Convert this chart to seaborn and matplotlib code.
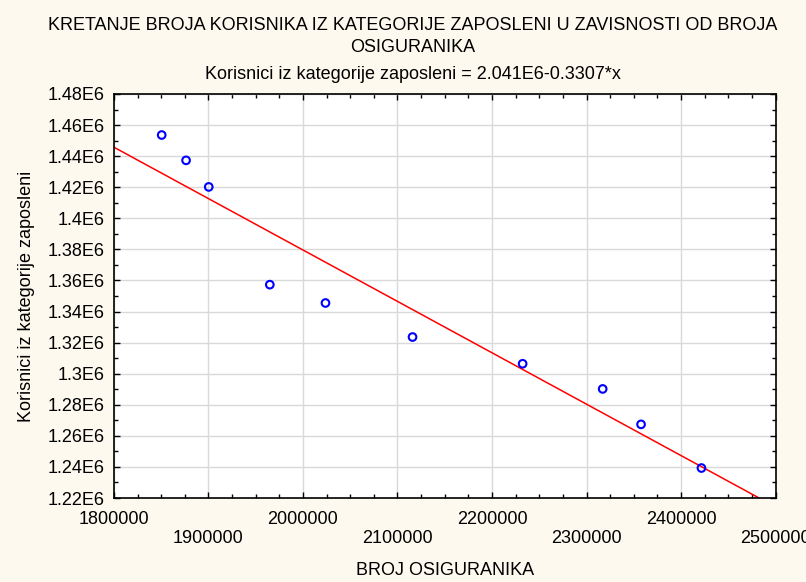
import numpy as np
import pandas as pd
import matplotlib
matplotlib.use("Agg")
import matplotlib.pyplot as plt
from matplotlib.ticker import FuncFormatter, MultipleLocator
import seaborn as sns

# podaci ocitani sa grafika
broj_osiguranika = [1850500, 1876300, 1900300, 1964900, 2023800,
                    2115900, 2232400, 2317100, 2357700, 2421600]
korisnici_zaposleni = [1453600, 1437300, 1420200, 1357300, 1345500,
                       1323600, 1306400, 1290200, 1267400, 1239300]

# regresijska prava iz naslova
intercept = 2.041e6
slope = -0.3307

x_ticks = [1800000, 1900000, 2000000, 2100000, 2200000, 2300000, 2400000, 2500000]
y_ticks = [1.22e6, 1.24e6, 1.26e6, 1.28e6, 1.3e6, 1.32e6, 1.34e6,
           1.36e6, 1.38e6, 1.4e6, 1.42e6, 1.44e6, 1.46e6, 1.48e6]

df = pd.DataFrame({"BROJ OSIGURANIKA": broj_osiguranika,
                   "Korisnici iz kategorije zaposleni": korisnici_zaposleni})

sns.set_theme(style="ticks")
plt.rcParams["font.family"] = ["Liberation Sans", "DejaVu Sans"]
plt.rcParams["text.color"] = "black"
plt.rcParams["axes.labelcolor"] = "black"

bg = "#fdf9ee"
fig = plt.figure(figsize=(8.06, 5.82), dpi=100, facecolor=bg)
ax = fig.add_axes([0.1414, 0.1443, 0.8208, 0.6942])
ax.set_facecolor("white")

ax.axline((0, intercept), slope=slope, color="#ff0000", lw=1.1, zorder=2)
sns.scatterplot(data=df, x="BROJ OSIGURANIKA", y="Korisnici iz kategorije zaposleni",
                marker="o", s=30, facecolor="none", edgecolor="#0000ff",
                linewidth=1.5, ax=ax, zorder=3)

ax.set_xlim(1800000, 2500000)
ax.set_ylim(1.22e6, 1.48e6)
ax.set_xticks(x_ticks)
ax.set_yticks(y_ticks)
ax.set_xticklabels([("" if i % 2 == 0 else "\n") + str(v) for i, v in enumerate(x_ticks)])
ax.yaxis.set_major_formatter(FuncFormatter(lambda v, p: f"{v / 1e6:g}E6"))
ax.xaxis.set_minor_locator(MultipleLocator(25000))
ax.yaxis.set_minor_locator(MultipleLocator(10000))

ax.grid(True, which="major", color="#d9d9d9", lw=1)
ax.set_axisbelow(True)
for s in ax.spines.values():
    s.set_visible(True)
    s.set_color("black")
    s.set_linewidth(1.2)
ax.tick_params(which="both", direction="in", top=True, right=True, colors="black",
               labelsize=13, width=1)
ax.tick_params(which="major", length=4)
ax.tick_params(which="minor", length=3)
ax.tick_params(axis="x", which="major", pad=9)
ax.tick_params(axis="y", which="major", pad=6.5)

ax.set_xlabel("BROJ OSIGURANIKA", fontsize=13, labelpad=11)
ax.set_ylabel("Korisnici iz kategorije zaposleni", fontsize=13, labelpad=9.5)

tx = 0.5124
fig.text(tx, 0.956, "KRETANJE BROJA KORISNIKA IZ KATEGORIJE ZAPOSLENI U ZAVISNOSTI OD BROJA",
         ha="center", va="center", fontsize=13)
fig.text(tx, 0.918, "OSIGURANIKA", ha="center", va="center", fontsize=13)
fig.text(tx, 0.872, "Korisnici iz kategorije zaposleni = 2.041E6-0.3307*x",
         ha="center", va="center", fontsize=13)

fig.savefig("out.png", dpi=100, facecolor=bg)
